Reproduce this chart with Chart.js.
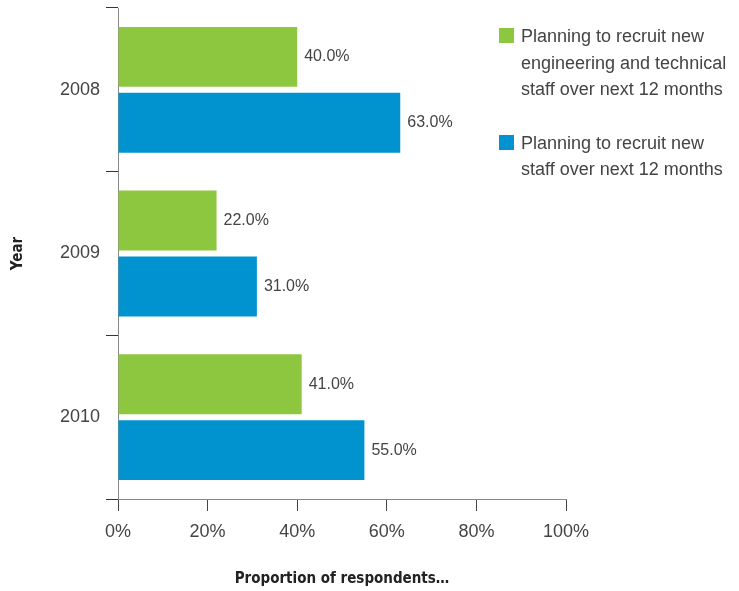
<!DOCTYPE html>
<html>
<head>
<meta charset="utf-8">
<script src="https://cdn.jsdelivr.net/npm/chart.js@4/dist/chart.umd.min.js"></script>
<style>
  body { margin: 0; background: #fff; }
  .wrap { position: relative; width: 739px; height: 591px; }
  .legend { position: absolute; left: 499px; top: 23px; width: 240px;
    font-family: "Liberation Sans", Arial, sans-serif; font-size: 18px;
    line-height: 26.5px; color: #444; }
  .legend .item { position: relative; padding-left: 22px; margin-bottom: 27px; }
  .legend .box { position: absolute; left: 0; top: 5px; width: 15px; height: 15px; }
</style>
</head>
<body>
<div class="wrap">
  <canvas id="myChart"></canvas>
  <div class="legend" id="legend"></div>
</div>
<script>
const years = ["2008", "2009", "2010"];
const engineeringStaff = [40, 22, 41];
const anyStaff = [63, 31, 55];
const xTicks = [0, 20, 40, 60, 80, 100];

const green = "#8dc63f";
const blue = "#0093d0";
const textColor = "#444";

const seriesNames = [
  "Planning to recruit new<br>engineering and technical<br>staff over next 12 months",
  "Planning to recruit new<br>staff over next 12 months",
];

// value labels to the right of every bar
const valueLabels = {
  id: "valueLabels",
  afterDatasetsDraw(chart) {
    const c = chart.ctx;
    c.save();
    c.font = "16px 'Liberation Sans', Arial, sans-serif";
    c.fillStyle = textColor;
    c.textBaseline = "middle";
    chart.data.datasets.forEach((ds, i) => {
      chart.getDatasetMeta(i).data.forEach((bar, j) => {
        c.fillText(ds.data[j].toFixed(1) + "%", bar.x + 7, bar.y);
      });
    });
    c.restore();
  },
};

const ctx = document.getElementById("myChart");

new Chart(ctx, {
  type: "bar",
  data: {
    labels: years,
    datasets: [
      {
        label: "engineering",
        data: engineeringStaff,
        backgroundColor: green,
        barPercentage: 0.91,
        categoryPercentage: 0.805,
      },
      {
        label: "staff",
        data: anyStaff,
        backgroundColor: blue,
        barPercentage: 0.91,
        categoryPercentage: 0.805,
      },
    ],
  },
  options: {
    indexAxis: "y",
    responsive: true,
    maintainAspectRatio: false,
    animation: false,
    layout: { padding: { top: 8, right: 173, bottom: 0, left: 0 } },
    plugins: {
      legend: { display: false },
      tooltip: { enabled: false },
    },
    scales: {
      x: {
        min: 0,
        max: 100,
        afterBuildTicks: (s) => {
          s.ticks = xTicks.map((v) => ({ value: v }));
        },
        afterFit: (s) => {
          s.height = 92;
        },
        border: { color: "#888", width: 1 },
        grid: { drawOnChartArea: false, tickLength: 12, color: "#444" },
        ticks: {
          padding: 10,
          color: textColor,
          font: { family: "'Liberation Sans', Arial, sans-serif", size: 18 },
          callback: (v) => v + "%",
        },
        title: {
          display: true,
          text: "Proportion of respondents…",
          color: "#222",
          padding: { top: 0, bottom: 3 },
          font: { family: "'Liberation Sans Narrow', 'DejaVu Sans Condensed', sans-serif", size: 15, weight: "bold" },
        },
      },
      y: {
        afterFit: (s) => {
          s.width = 118;
          s.paddingTop = 0;
          s.paddingBottom = 0;
        },
        border: { color: "#888", width: 1 },
        grid: { drawOnChartArea: false, tickLength: 12, color: "#333", offset: true },
        ticks: {
          padding: 6,
          color: textColor,
          font: { family: "'Liberation Sans', Arial, sans-serif", size: 18 },
        },
        title: {
          display: true,
          text: "Year",
          color: "#222",
          padding: { top: 9, bottom: 0 },
          font: { family: "'Liberation Sans Narrow', 'DejaVu Sans Condensed', sans-serif", size: 15, weight: "bold" },
        },
      },
    },
  },
  plugins: [valueLabels],
});

// legend beside the plot
const legend = document.getElementById("legend");
[green, blue].forEach((col, i) => {
  const item = document.createElement("div");
  item.className = "item";
  item.innerHTML = '<span class="box" style="background:' + col + '"></span>' + seriesNames[i];
  legend.appendChild(item);
});
</script>
</body>
</html>
